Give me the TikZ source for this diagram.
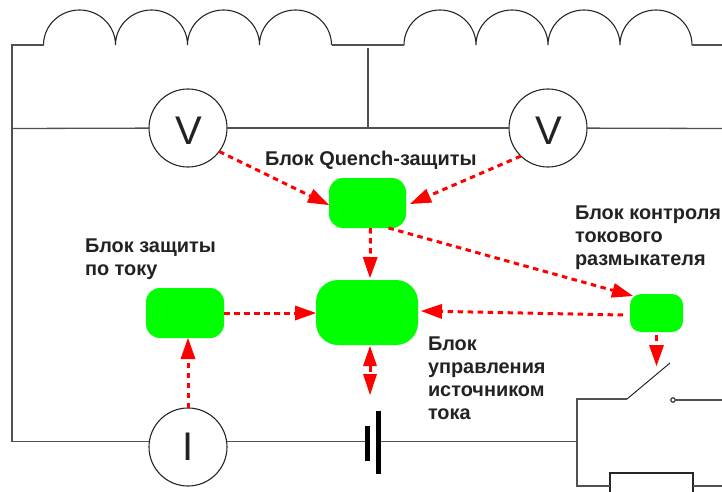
\documentclass[tikz,border=0pt]{standalone}
\usepackage{fontspec}
\setmainfont{Liberation Sans}
\usetikzlibrary{arrows.meta}
\definecolor{wirec}{HTML}{505050}
\definecolor{txtc}{HTML}{222222}
\definecolor{blockc}{HTML}{00FF00}
\tikzset{
  x=1pt,y=-1pt,
  wire/.style={draw=wirec,line width=1.3pt},
  coil/.style={draw=black!85,line width=1.1pt},
  meter/.style={circle,draw=black!85,fill=white,line width=1.1pt,minimum size=78pt,inner sep=0pt,outer sep=0pt,text=txtc,font=\fontsize{40}{40}\selectfont},
  block/.style={fill=blockc,inner sep=0pt,outer sep=0pt},
  sig/.style={draw=red,line width=3pt,dash pattern=on 5.5pt off 4.5pt,-{Triangle[length=21pt,width=15pt,fill=red,line width=0pt]}},
  sigboth/.style={draw=red,line width=3pt,dash pattern=on 5.5pt off 4.5pt,{Triangle[length=20pt,width=14pt,fill=red,line width=0pt]}-{Triangle[length=21pt,width=14pt,fill=red,line width=0pt]}},
  label/.style={align=left,anchor=north west,inner sep=0pt,outer sep=0pt,text=txtc,font=\fontsize{19.9}{23}\selectfont\bfseries},
  plate/.style={fill=black,inner sep=0pt,outer sep=0pt},
}
\begin{document}
\begin{tikzpicture}
\useasboundingbox (0,0) rectangle (722,492);
\clip (0,0) rectangle (722,492);
% meters
\node[meter] (v1) at (188,128) {\raisebox{-3pt}[\height][0pt]{\hspace{1pt}V}};
\node[meter] (v2) at (548,128) {\raisebox{-3pt}[\height][0pt]{\hspace{1pt}V}};
\node[meter] (ameter) at (188,447) {I};
% blocks
\node[block,rounded corners=14pt,minimum width=77pt,minimum height=50pt] (quench) at (367.5,203) {};
\node[block,rounded corners=14pt,minimum width=78pt,minimum height=50pt] (prot) at (185,313) {};
\node[block,rounded corners=22pt,minimum width=102pt,minimum height=65pt] (ctrl) at (367,312.5) {};
\node[block,rounded corners=11pt,minimum width=53pt,minimum height=38pt] (brk) at (656.5,313) {};
% battery
\node[plate,minimum width=5pt,minimum height=35pt] (bata) at (367.5,443.5) {};
\node[plate,minimum width=5pt,minimum height=63pt] (batb) at (378,442.5) {};
% wire points
\coordinate (tl) at (12,45);
\coordinate (ml) at (12,128.5);
\coordinate (bl) at (12,441.5);
\coordinate (c1a) at (43.5,45);
\coordinate (c1b) at (332,45);
\coordinate (c2a) at (404,45);
\coordinate (c2b) at (692,45);
\coordinate (tr) at (722,45);
\coordinate (mr) at (722,128.5);
\coordinate (j) at (368,48);
\coordinate (jb) at (368,128.5);
\coordinate (bj) at (577,441.5);
\coordinate (st) at (577,399);
\coordinate (sb) at (577,486);
\coordinate (blade) at (627,399);
\coordinate (bladeend) at (670,363);
\coordinate (cr) at (722,400);
\coordinate (fr) at (722,486);
\node[draw=black!85,line width=1.1pt,circle,minimum size=4.5pt,inner sep=0pt,outer sep=0pt] (contact) at (673,400) {};
\node[draw=black!85,line width=1.1pt,minimum width=83pt,minimum height=26pt,inner sep=0pt,outer sep=0pt] (fuse) at (651.5,486) {};
% coils
\draw[coil] (c1a) arc[start angle=180,end angle=360,x radius=36,y radius=35]
  arc[start angle=180,end angle=360,x radius=36,y radius=35]
  arc[start angle=180,end angle=360,x radius=36,y radius=35]
  arc[start angle=180,end angle=360,x radius=36,y radius=35];
\draw[coil] (c2a) arc[start angle=180,end angle=360,x radius=36,y radius=35]
  arc[start angle=180,end angle=360,x radius=36,y radius=35]
  arc[start angle=180,end angle=360,x radius=36,y radius=35]
  arc[start angle=180,end angle=360,x radius=36,y radius=35];
% wires
\draw[wire] (c1a) -- (tl) -- (bl) -- (ameter.west |- bl);
\draw[wire] (c1b) -- (c2a);
\draw[wire] (c2b) -- (tr);
\draw[wire] (ml) -- (v1);
\draw[wire] (v1) -- (v2);
\draw[wire] (v2) -- (mr);
\draw[wire] (j) -- (jb);
\draw[wire] (ameter.east |- bl) -- (bata.west |- bl);
\draw[wire] (batb.east |- bl) -- (bj);
\draw[wire] (blade) -- (st) -- (sb) -- (fuse.west);
\draw[coil,line width=1pt] (blade) -- (bladeend);
\draw[wire] (contact) -- (cr);
\draw[wire] (fuse.east) -- (fr);
% signals
\draw[sig] (v1.-37) -- ([yshift=-2pt]quench.west);
\draw[sig] (v2.-134) -- ([xshift=4pt,yshift=-1pt]quench.east);
\draw[sig] ([xshift=3pt]quench.south) -- ([xshift=3pt,yshift=2pt]ctrl.north);
\draw[sig] ([xshift=21pt]quench.south) -- ([xshift=3pt,yshift=17pt]brk.west);
\draw[sig] ([xshift=-7pt,yshift=-2pt]brk.west) -- ([xshift=3pt,yshift=1.5pt]ctrl.east);
\draw[sig] (prot.east) -- (prot.east -| ctrl.west);
\draw[sig] (ameter.north) -- (prot.south -| ameter.north);
\draw[sigboth] ([xshift=3pt,yshift=-1pt]ctrl.south) -- ([xshift=3pt,yshift=-50pt]ctrl.south);
\draw[sig] ([yshift=-3pt]brk.south) -- ([yshift=-3pt]brk.south |- bladeend);
% labels
\node[label] (lq) at (265,151) {Блок Quench-защиты};
\node[label] (lp) at (85,238.5) {Блок защиты\\по току};
\node[label] (lb) at (575,206) {Блок контроля\\токового\\размыкателя};
\node[label] (lc) at (428,336.5) {Блок\\управления\\источником\\тока};
\end{tikzpicture}
\end{document}
